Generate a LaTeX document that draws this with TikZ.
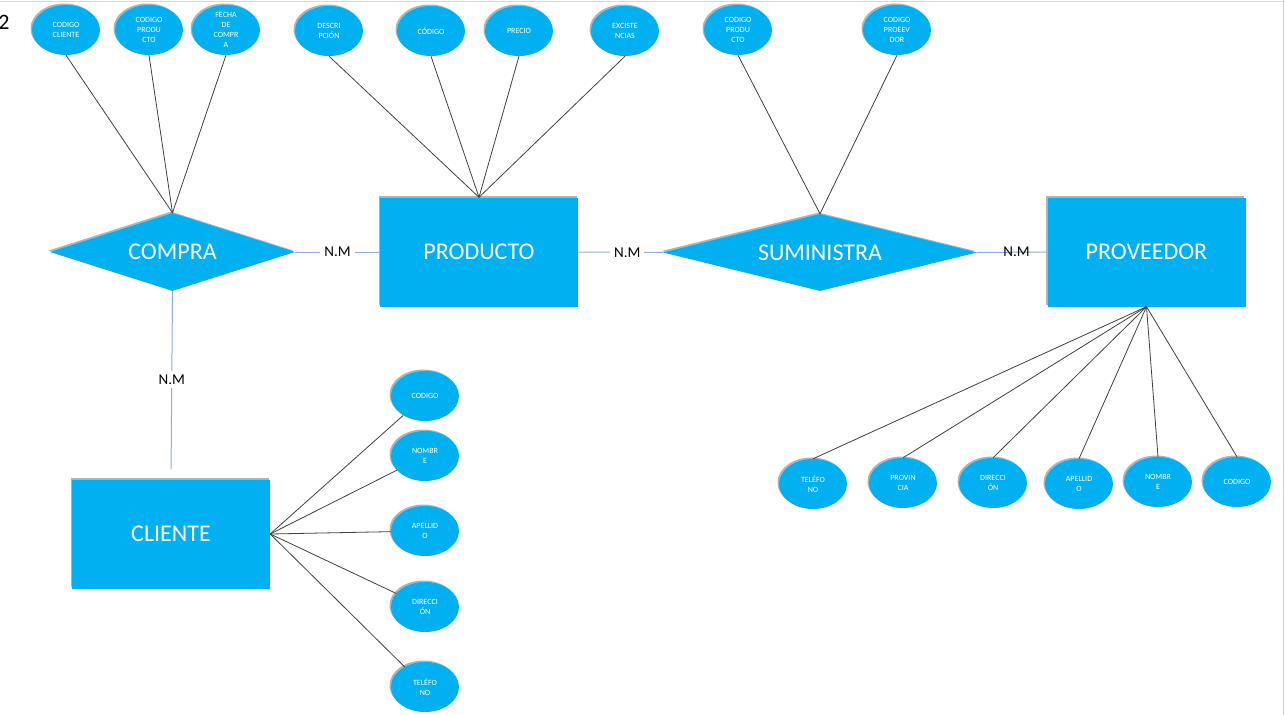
\documentclass[tikz,border=0pt]{standalone}
\usepackage{fontspec}
\setmainfont{Carlito}
\definecolor{ERCyan}{HTML}{00B0F0}
\definecolor{ERLink}{HTML}{8FAADC}
\usepackage{tikz}
\usetikzlibrary{shapes.geometric, shadows}

\begin{document}
\begin{tikzpicture}[x=1pt, y=-1pt,
  sombra/.style={drop shadow={shadow xshift=-1.5pt, shadow yshift=1.5pt, opacity=0.3, fill=black}},
  entidad/.style={rectangle, fill=ERCyan, text=white, minimum width=198pt, minimum height=109pt,
    font=\fontsize{24}{28}\selectfont, sombra},
  relacion/.style={diamond, fill=ERCyan, text=white, inner sep=0pt, shape aspect=4,
    font=\fontsize{24}{28}\selectfont, sombra},
  atributo/.style={ellipse, fill=ERCyan, text=white, minimum width=68pt, minimum height=50pt,
    inner sep=0pt, align=center, font=\fontsize{8}{10}\selectfont, sombra},
  linea/.style={draw=black!75, line width=0.8pt},
  enlace/.style={draw=ERLink, line width=1pt},
  card/.style={font=\fontsize{15}{18}\selectfont, text=black, inner sep=1pt}]
  \useasboundingbox (0,0) rectangle (1286,715);
  % Page edges
  \draw[black!15, line width=1pt] (0,1.5) -- (1283,1.5);
  \draw[black!20, line width=1pt] (1283,0) -- (1283,715);
  \node[font=\fontsize{22}{26}\selectfont, inner sep=0pt] (num) at (4,22) {2};

  % Entities and relations
  \node[relacion, minimum width=245pt, minimum height=78pt] (compra) at (172.5,252) {COMPRA};
  \node[entidad] (producto) at (479,252) {PRODUCTO};
  \node[relacion, minimum width=314pt, minimum height=77pt] (suministra) at (820,252.5) {SUMINISTRA};
  \node[entidad] (proveedor) at (1146.5,252) {PROVEEDOR};
  \node[entidad] (cliente) at (171,534) {CLIENTE};

  % Attributes of COMPRA
  \node[atributo] (ccli) at (66,30) {CODIGO\\CLIENTE};
  \node[atributo] (cprod) at (149,30) {CODIGO\\PRODU\\CTO};
  \node[atributo] (fecha) at (226,30) {FECHA\\DE\\COMPR\\A};
  \foreach \a in {ccli,cprod,fecha}
    \draw[linea] (\a.south) -- (compra.north);

  % Attributes of PRODUCTO
  \node[atributo] (desc) at (329,31) {DESCRI\\PCIÓN};
  \node[atributo] (pcod) at (431,31) {CÓDIGO};
  \node[atributo] (precio) at (519,31) {PRECIO};
  \node[atributo] (exis) at (625,31) {EXCISTE\\NCIAS};
  \foreach \a in {desc,pcod,precio,exis}
    \draw[linea] (\a.south) -- (producto.north);

  % Attributes of SUMINISTRA
  \node[atributo] (sprod) at (738,30) {CODIGO\\PRODU\\CTO};
  \node[atributo] (sprov) at (897,30) {CODIGO\\PROEEV\\DOR};
  \foreach \a in {sprod,sprov}
    \draw[linea] (\a.south) -- (suministra.north);

  % Attributes of CLIENTE
  \node[atributo] (clcod) at (425,396) {CODIGO};
  \node[atributo] (clnom) at (425,456) {NOMBR\\E};
  \node[atributo] (clape) at (425,531) {APELLID\\O};
  \node[atributo] (cldir) at (425,607) {DIRECCI\\ÓN};
  \node[atributo] (cltel) at (425,687) {TELÉFO\\NO};
  \foreach \a in {clcod,clnom,clape,cldir,cltel}
    \draw[linea] (cliente.east) -- (\a);

  % Attributes of PROVEEDOR
  \node[atributo] (pvtel) at (813,484) {TELÉFO\\NO};
  \node[atributo] (pvprv) at (903,483) {PROVIN\\CIA};
  \node[atributo] (pvdir) at (993,483) {DIRECCI\\ÓN};
  \node[atributo] (pvape) at (1079,484) {APELLID\\O};
  \node[atributo] (pvnom) at (1158,482) {NOMBR\\E};
  \node[atributo] (pvcod) at (1237,482) {CODIGO};
  \foreach \a in {pvtel,pvprv,pvdir,pvape,pvnom,pvcod}
    \draw[linea] (proveedor.south) -- (\a.north);

  % Cardinalities
  \draw[enlace] (compra.east) -- node[card, fill=white, inner xsep=4pt] (nm1) {N.M} (producto.west);
  \draw[enlace] (producto.east) -- node[card, fill=white, inner xsep=4pt, pos=0.58] (nm2) {N.M} (suministra.west);
  \draw[enlace] (suministra.east) -- node[card, pos=0.56] (nm3) {N.M} (proveedor.west);
  \draw[enlace, shorten >=10pt] (compra.south) -- node[card, fill=white, inner ysep=4pt, pos=0.47] (nm4) {N.M} (cliente.north);
\end{tikzpicture}
\end{document}
